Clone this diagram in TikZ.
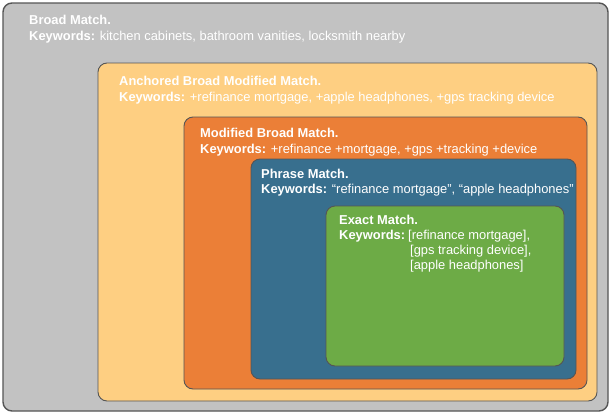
\documentclass[tikz,border=0pt]{standalone}
\usepackage{fontspec}
\setmainfont{Liberation Sans}
\definecolor{cgray}{HTML}{C2C2C2}
\definecolor{cpeach}{HTML}{FECF82}
\definecolor{corange}{HTML}{EB7F37}
\definecolor{cblue}{HTML}{386F8E}
\definecolor{cgreen}{HTML}{6DAB46}
\definecolor{cedge}{HTML}{555555}
\begin{document}
\begin{tikzpicture}[x=1pt,y=-1pt,
  box/.style={draw=cedge, line width=0.9pt, rounded corners=9pt, inner sep=0pt},
  txt/.style={anchor=base west, inner sep=0pt, text=white, font=\fontsize{12.9}{15}\selectfont}]
\useasboundingbox (0,0) rectangle (612,415);
% boxes
\node[box, fill=cgray, line width=1.4pt, minimum width=605pt, minimum height=408pt] (broad) at (305.5,207) {};
\node[box, fill=cpeach, minimum width=499pt, minimum height=338pt] (anch) at (347.5,232) {};
\node[box, fill=corange, minimum width=403pt, minimum height=272pt] (mod) at (385.5,253) {};
\node[box, fill=cblue, minimum width=325pt, minimum height=220pt] (phr) at (413.5,269) {};
\node[box, fill=cgreen, minimum width=238pt, minimum height=160pt] (ex) at (445,286) {};
% texts
\node[txt] (t1) at (29,24) {\textbf{Broad Match.}};
\node[txt] (t2) at (29,40) {\textbf{Keywords:} kitchen cabinets, bathroom vanities, locksmith nearby};
\node[txt] (t3) at (119,85) {\textbf{Anchored Broad Modified Match.}};
\node[txt] (t4) at (119,101) {\textbf{Keywords:} +refinance mortgage, +apple headphones, +gps tracking device};
\node[txt] (t5) at (200,137) {\textbf{Modified Broad Match.}};
\node[txt] (t6) at (200,153) {\textbf{Keywords:} +refinance +mortgage, +gps +tracking +device};
\node[txt] (t7) at (261,178) {\textbf{Phrase Match.}};
\node[txt] (t8) at (261,193) {\textbf{Keywords:} “refinance mortgage”, “apple headphones”};
\node[txt] (t9) at (339,224) {\textbf{Exact Match.}};
\node[txt] (t10) at (339,239) {\textbf{Keywords:}};
\node[txt] (t10b) at (408,239) {[refinance mortgage],};
\node[txt] (t11) at (410,254) {[gps tracking device],};
\node[txt] (t12) at (410,269) {[apple headphones]};
\end{tikzpicture}
\end{document}
